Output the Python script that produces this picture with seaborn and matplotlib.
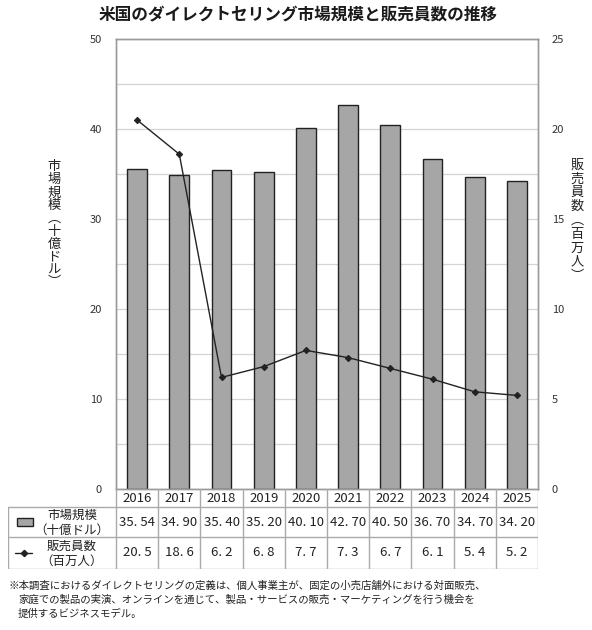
import matplotlib
matplotlib.use('Agg')
import matplotlib.pyplot as plt
import seaborn as sns
import pandas as pd
import numpy as np
from matplotlib.patches import Rectangle
from matplotlib.lines import Line2D

# ---- data ----
years = ['2016', '2017', '2018', '2019', '2020', '2021', '2022', '2023', '2024', '2025']
market_size = [35.54, 34.90, 35.40, 35.20, 40.10, 42.70, 40.50, 36.70, 34.70, 34.20]
salespeople = [20.5, 18.6, 6.2, 6.8, 7.7, 7.3, 6.7, 6.1, 5.4, 5.2]
left_ticks = [0, 10, 20, 30, 40, 50]
right_ticks = [0, 5, 10, 15, 20, 25]
title = '米国のダイレクトセリング市場規模と販売員数の推移'
left_label = '市場規模︵十億ドル︶'
right_label = '販売員数︵百万人︶'
row1_label = ['市場規模', '（十億ドル）']
row2_label = ['販売員数', '（百万人）']
note_lines = [
    '※本調査におけるダイレクトセリングの定義は、個人事業主が、固定の小売店舗外における対面販売、',
    '家庭での製品の実演、オンラインを通じて、製品・サービスの販売・マーケティングを行う機会を',
    '提供するビジネスモデル。',
]

sns.set_theme(style='white')
plt.rcParams['font.family'] = ['Noto Sans CJK JP', 'DejaVu Sans']

W, H = 592, 630
fig = plt.figure(figsize=(W / 100, H / 100), dpi=100)
fig.patch.set_facecolor('white')

L, R, T, B = 116, 538, 39, 489
colw = (R - L) / len(years)
edge_grey = '#9a9a9a'
bar_face = '#a6a6a6'
ink = '#222222'

ax = fig.add_axes([L / W, 1 - B / H, (R - L) / W, (B - T) / H])
df = pd.DataFrame({'year': years, 'pos': np.arange(len(years)),
                   'market': market_size, 'sales': salespeople})
sns.barplot(data=df, x='year', y='market', ax=ax, color=bar_face, width=0.47,
            edgecolor=ink, linewidth=1.0, saturation=1, zorder=2)
ax.set_xlim(-0.5, len(years) - 0.5)
ax.set_ylim(0, 50)
ax.set_yticks(left_ticks)
ax.set_yticks(np.arange(0, 51, 5), minor=True)
ax.yaxis.grid(True, which='both', color='#d4d4d4', lw=0.9, zorder=0)
ax.set_axisbelow(True)
ax.set_xticks([])
ax.set_xlabel('')
ax.set_ylabel('')
ax.tick_params(axis='y', which='both', length=0, pad=10, labelsize=8, labelcolor='#333333')
for s in ax.spines.values():
    s.set_color(edge_grey)
    s.set_linewidth(1.0)

ax2 = ax.twinx()
sns.lineplot(data=df, x='pos', y='sales', ax=ax2, color=ink, lw=1.0, marker='D',
             markersize=3.2, markeredgecolor=ink, markerfacecolor=ink, zorder=3)
ax2.set_xlim(-0.5, len(years) - 0.5)
ax2.set_ylim(0, 25)
ax2.set_yticks(right_ticks)
ax2.grid(False)
ax2.set_xlabel('')
ax2.set_ylabel('')
ax2.tick_params(axis='y', length=0, pad=10, labelsize=8, labelcolor='#333333')
for s in ax2.spines.values():
    s.set_color(edge_grey)
    s.set_linewidth(1.0)

# ---- data table ----
TB = 569
tx = fig.add_axes([8 / W, 1 - TB / H, (R - 8) / W, (TB - B) / H])
def p2c(px):
    return -0.5 + (px - L) / colw
xl = p2c(8)
xr = len(years) - 0.5
tx.set_xlim(xl, xr)
tx.set_ylim(TB, B)
tx.axis('off')
lc = '#aaaaaa'
for yy in (506.5, 537, TB - 0.5):
    tx.add_line(Line2D([xl, xr], [yy, yy], color=lc, lw=1.0))
tx.add_line(Line2D([xl + 0.01, xl + 0.01], [506.5, TB], color=lc, lw=1.0))
for k in range(len(years) + 1):
    xk = -0.5 + k
    if k == len(years):
        xk -= 0.01
    tx.add_line(Line2D([xk, xk], [B, TB], color=lc, lw=1.0))

for i, y in enumerate(years):
    tx.text(i, 498, y, ha='center', va='center', fontsize=9.5, color=ink)
for i, v in enumerate(market_size):
    tx.text(i, 522, f'{v:.2f}'.replace('.', '. '), ha='center', va='center', fontsize=9.5, color=ink)
for i, v in enumerate(salespeople):
    tx.text(i, 553, f'{v:.1f}'.replace('.', '. '), ha='center', va='center', fontsize=9.5, color=ink)

hx = p2c(72)
tx.text(hx, 515, row1_label[0], ha='center', va='center', fontsize=9, color=ink)
tx.text(hx, 530, row1_label[1], ha='center', va='center', fontsize=9, color=ink)
tx.text(hx, 546, row2_label[0], ha='center', va='center', fontsize=9, color=ink)
tx.text(hx, 561, row2_label[1], ha='center', va='center', fontsize=9, color=ink)

tx.add_patch(Rectangle((p2c(17), 518), p2c(33) - p2c(17), 8, facecolor=bar_face,
                       edgecolor=ink, lw=1.0))
tx.add_line(Line2D([p2c(15), p2c(32)], [553, 553], color=ink, lw=1.0))
tx.add_line(Line2D([p2c(23.5)], [553], color=ink, marker='D', markersize=3.2))

# ---- title, axis labels, note ----
fig.text(298.5 / W, 1 - 15 / H, title, ha='center', va='center', fontsize=12,
         fontweight='bold', color='#1a1a1a')

def vtext(s, xpx, y0, y1):
    n = len(s)
    step = (y1 - y0) / (n - 1)
    for i, ch in enumerate(s):
        fig.text(xpx / W, 1 - (y0 + i * step) / H, ch, ha='center', va='center',
                 fontsize=9.5, color=ink)

vtext(left_label, 54, 167, 283)
vtext(right_label, 577, 165, 276)

fig.text(8 / W, 1 - 586 / H, note_lines[0], ha='left', va='center', fontsize=7.5, color=ink)
fig.text(18 / W, 1 - 600 / H, note_lines[1], ha='left', va='center', fontsize=7.5, color=ink)
fig.text(18 / W, 1 - 614 / H, note_lines[2], ha='left', va='center', fontsize=7.5, color=ink)

fig.savefig('out.png', dpi=100, facecolor='white')
